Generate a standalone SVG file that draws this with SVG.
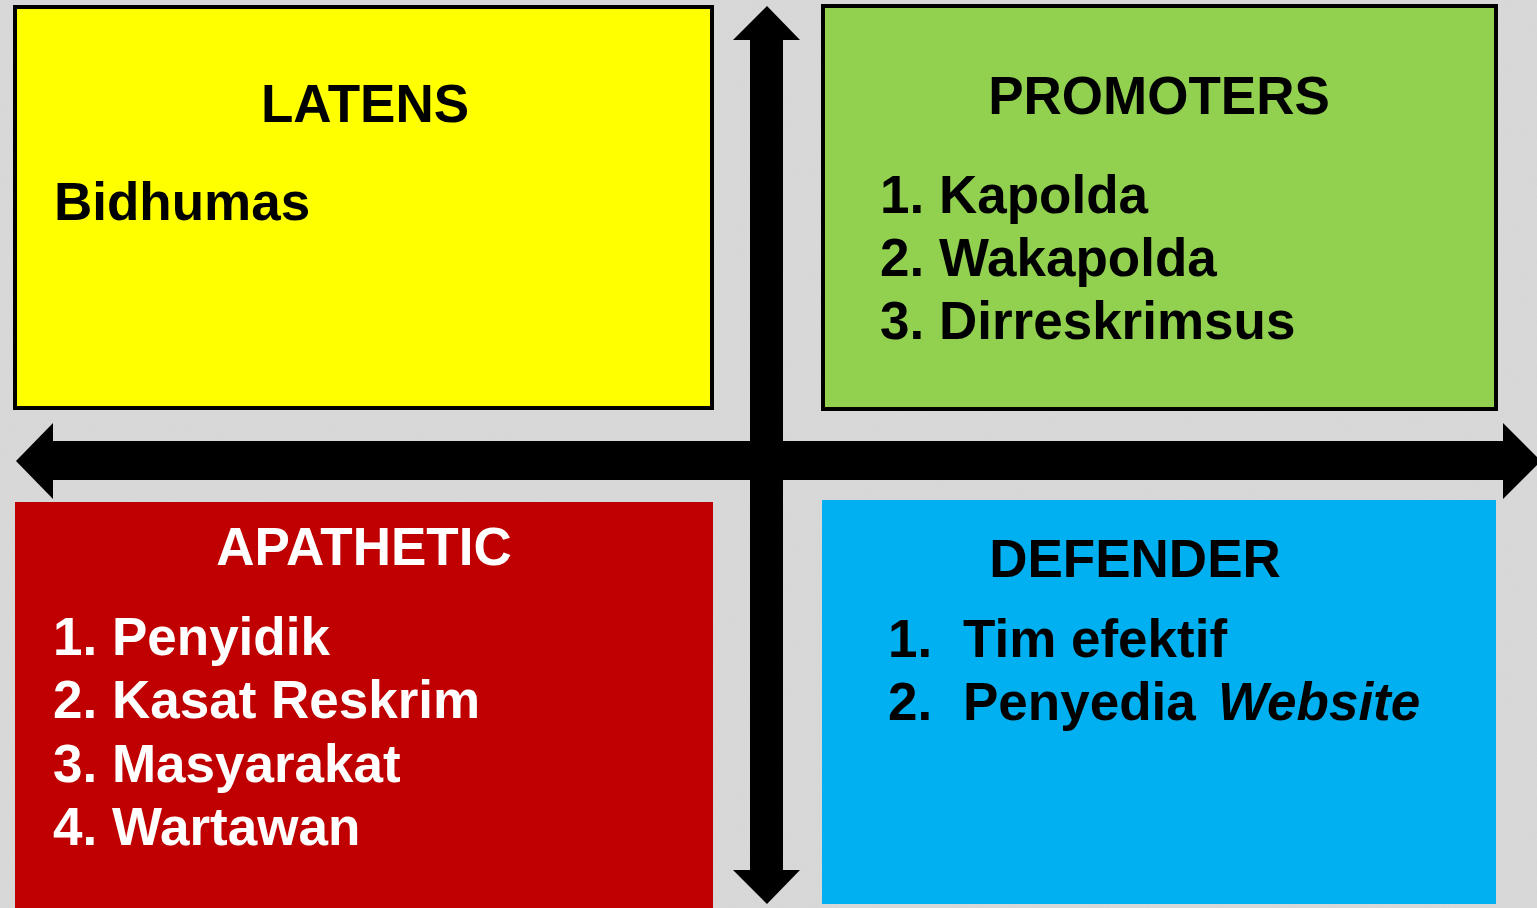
<svg xmlns="http://www.w3.org/2000/svg" width="1537" height="908" viewBox="0 0 1537 908">
<defs>
<style>
.t{font-family:"Liberation Sans",Arial,sans-serif;font-weight:bold;font-size:53px}
.h{text-anchor:middle}
.k{fill:#000}
.w{fill:#fff}
.bx{stroke:#000;stroke-width:4}
</style>
<filter id="noise" x="0" y="0" width="100%" height="100%">
<feTurbulence type="fractalNoise" baseFrequency="0.9" numOctaves="2" seed="3" result="n"/>
<feColorMatrix in="n" type="matrix" values="0 0 0 0 0.55  0 0 0 0 0.55  0 0 0 0 0.55  0 0 0 0.35 0"/>
</filter>
</defs>
<rect x="0" y="0" width="1537" height="908" fill="#dadada"/>
<rect x="0" y="0" width="1537" height="908" filter="url(#noise)" opacity="0.6"/>

<g id="latens">
<rect class="bx" x="15" y="7" width="697" height="401" fill="#ffff00"/>
<text class="t h k" x="365" y="122">LATENS</text>
<text class="t k" x="54" y="220">Bidhumas</text>
</g>

<g id="promoters">
<rect class="bx" x="823" y="6" width="673" height="403" fill="#92d050"/>
<text class="t h k" x="1159" y="114">PROMOTERS</text>
<text class="t k" x="880" y="213">1. Kapolda</text>
<text class="t k" x="880" y="276">2. Wakapolda</text>
<text class="t k" x="880" y="339">3. Dirreskrimsus</text>
</g>

<g id="apathetic">
<rect x="15" y="502" width="698" height="406" fill="#c00000"/>
<text class="t h w" x="364" y="565">APATHETIC</text>
<text class="t w" x="53" y="655">1. Penyidik</text>
<text class="t w" x="53" y="718">2. Kasat Reskrim</text>
<text class="t w" x="53" y="782">3. Masyarakat</text>
<text class="t w" x="53" y="845">4. Wartawan</text>
</g>

<g id="defender">
<rect x="822" y="500" width="674" height="404" fill="#00b0f0"/>
<text class="t h k" x="1135" y="577">DEFENDER</text>
<text class="t k" y="657"><tspan x="888">1.</tspan><tspan x="963">Tim efektif</tspan></text>
<text class="t k" y="720"><tspan x="888">2.</tspan><tspan x="963">Penyedia</tspan><tspan x="1218" font-style="italic">Website</tspan></text>
</g>

<g id="connectors" fill="#000">
<polygon points="767,6 800,40 783,40 783,870 800,870 767,904 733,870 750,870 750,40 733,40"/>
<polygon points="16,461 53,423 53,441 1503,441 1503,423 1541,461 1503,499 1503,480 53,480 53,499"/>
</g>
</svg>
